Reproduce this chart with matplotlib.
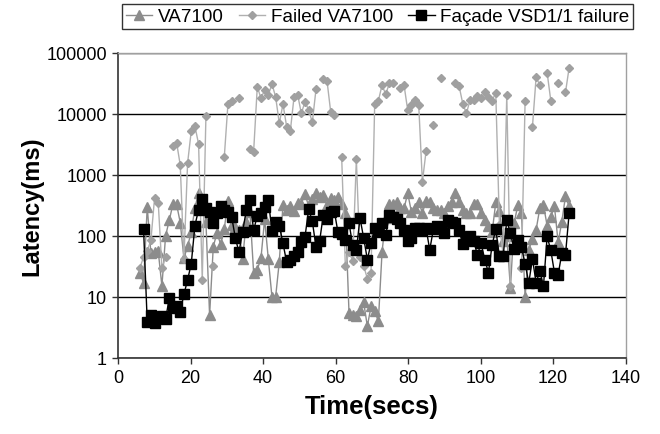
import numpy as np
import matplotlib
matplotlib.use("Agg")
import matplotlib.pyplot as plt

nan = np.nan

# samples start at ~6 s, one sample roughly every second
START_SEC = 6.0
STEP_SEC = 1.012

va7100 = [
    25, 17, 297, 52, 55, 56, 15, 100, 180, 330,
    330, 165, 43, 68, 115, 290, 510, 380, 170, 5,
    66, 113, 73, 130, 370, 150, 142, 126, 42, 172,
    250, 25, 28, 43, 188, 42, 10, 10, 38, 324,
    268, 304, 252, 344, 336, 490, 304, 400, 500, 433,
    470, 320, 415, 390, 433, 337, 236, 5.5, 5.1, 4.8,
    6, 8.1, 3.3, 7, 5.8, 4, 54, 200, 337, 330,
    354, 283, 283, 500, 250, 283, 365, 236, 380, 365,
    283, 262, 262, 241, 304, 365, 500, 365, 268, 236,
    236, 337, 337, 236, 183, 147, 114, 354, 252, 81,
    98, 14, 162, 316, 240, 10, 59, 90, 126, 283,
    323, 147, 208, 304, 78, 172, 445, 304,
]

failed = [
    30, 45, 57, 85, 420, 350, 30, 45, nan, 3000,
    3400, 1450, 42, 1550, 5250, 6300, 3200, 19, 9300, nan,
    32, nan, nan, 1950, 14500, 16600, nan, 18100, nan, nan,
    2630, 2400, 28000, 18000, 24700, 20400, 31000, 19000, 7000, 14500,
    6200, 5250, 18600, 20700, 10200, 15800, 11600, 7300, 25300, nan,
    38000, 35000, 10900, 9500, nan, 1950, 32, 55, 39, 1800,
    45, 32, 20, 25, 14800, 16400, 29700, 21000, 31600, 31600,
    nan, 26300, 29700, 11500, 14000, 17000, 14000, 770, 2450, nan,
    6700, nan, 39000, nan, nan, nan, 31600, 28700, 14800, 10200,
    16900, 17000, 19600, 18000, 22500, 19000, 16500, 22300, 150, 51,
    20400, 15, nan, nan, 30, 16500, nan, 6200, 40000, 29700,
    nan, 47500, 16500, nan, 31600, nan, 22500, 57500,
]

facade = [
    nan, 130, 3.9, 5.1, 3.7, 4.5, 4.8, 4.3, 9.5, 6.6,
    7, 5.7, 11, 19, 35, 148, 270, 405, 284, 242,
    162, 237, 315, 270, 242, 208, 94, 54, 118, 262,
    390, 123, 215, 236, 300, 390, 120, 166, 147, 76,
    37, 41, 46, 54, 78, 96, 275, 173, 66, 83,
    222, 190, 250, 252, 114, 108, 87, 162, 71, 59,
    195, 92, 41, 76, 134, 118, 162, 102, 222, 203,
    188, 162, 126, 81, 92, 134, 134, 126, 134, 59,
    129, 146, 142, 111, 179, 172, 162, 123, 74, 92,
    98, 81, 49, 76, 41, 25, 71, 129, 46, 46,
    179, 111, 60, 87, 65, 35, 17, 42, 17, 27,
    15, 98, 58, 25, 23, 52, 49, 236,
]

t = START_SEC + STEP_SEC * np.arange(len(facade))

plt.rcParams["font.family"] = ["Liberation Sans", "DejaVu Sans"]

fig = plt.figure(figsize=(6.6, 4.35), dpi=100)
ax = fig.add_axes([0.179, 0.175, 0.769, 0.701])

l1, = ax.plot(t, va7100, color="#8c8c8c", lw=1.0, marker="^", ms=6.5,
              mfc="#8c8c8c", mec="#8c8c8c", label="VA7100", zorder=3)
l2, = ax.plot(t, failed, color="#b0b0b0", lw=1.0, marker="D", ms=3.8,
              mfc="#a0a0a0", mec="#a0a0a0", label="Failed VA7100", zorder=4)
l3, = ax.plot(t, facade, color="black", lw=1.0, marker="s", ms=6.5,
              mfc="black", mec="black", label="Façade VSD1/1 failure", zorder=5)

ax.set_yscale("log")
ax.set_ylim(1, 100000)
ax.set_xlim(0, 140)
ax.set_xticks(range(0, 141, 20))
ax.set_yticks([1, 10, 100, 1000, 10000, 100000])
ax.set_yticklabels(["1", "10", "100", "1000", "10000", "100000"])
ax.yaxis.set_minor_locator(matplotlib.ticker.NullLocator())
ax.tick_params(labelsize=13, direction="out", length=4, width=1, color="#333333", pad=4)
ax.grid(axis="y", which="major", color="black", lw=1.0)
ax.set_axisbelow(True)
for s in ("left", "bottom"):
    ax.spines[s].set_color("#333333")
    ax.spines[s].set_linewidth(1.2)
for s in ("top", "right"):
    ax.spines[s].set_color("#a0a0a0")
    ax.spines[s].set_linewidth(1.0)

ax.set_xlabel("Time(secs)", fontsize=18.5, fontweight="bold", labelpad=6)
ax.set_ylabel("Latency(ms)", fontsize=17, fontweight="bold", labelpad=2)

leg = fig.legend(handles=[l1, l2, l3], loc="center", bbox_to_anchor=(0.572, 0.959),
                 ncol=3, fontsize=13.6, frameon=True, fancybox=False,
                 edgecolor="black", handlelength=1.4, handletextpad=0.3,
                 columnspacing=0.8, borderpad=0.2, borderaxespad=0)
leg.get_frame().set_linewidth(1.0)

fig.savefig("out.png", dpi=100)
